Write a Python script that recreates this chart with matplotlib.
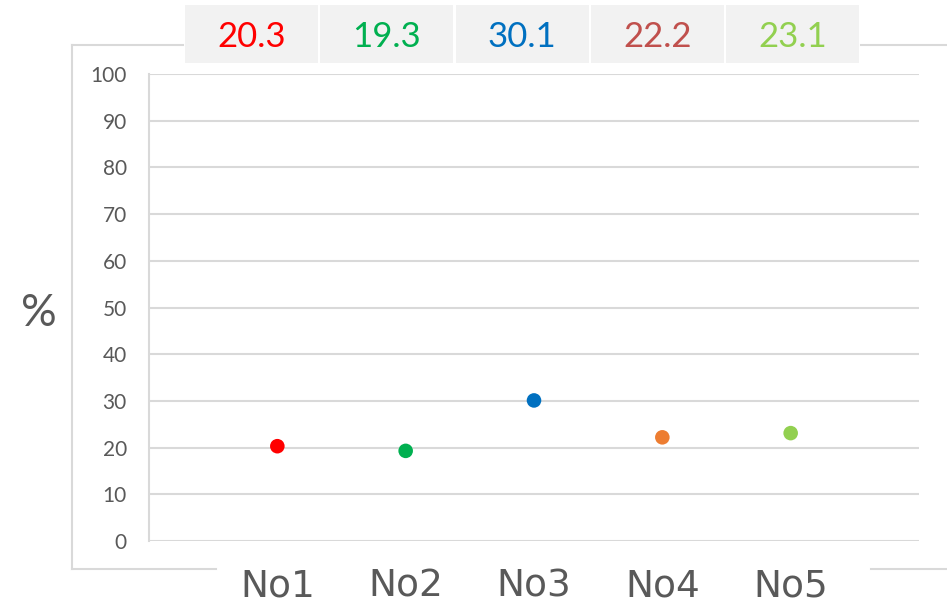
import matplotlib.pyplot as plt
from matplotlib.patches import Rectangle
from matplotlib.lines import Line2D

# values per sample
labels = ["No1", "No2", "No3", "No4", "No5"]
values = [20.3, 19.3, 30.1, 22.2, 23.1]
point_colors = ["#FF0000", "#00B050", "#0070C0", "#ED7D31", "#92D050"]
text_colors = ["#FF0000", "#00B050", "#0070C0", "#C0504D", "#92D050"]
yticks = list(range(0, 101, 10))

W, H = 947, 605
grid_col = "#D9D9D9"
text_col = "#595959"

fig = plt.figure(figsize=(W / 100, H / 100), dpi=100)

def fx(px):
    return px / W

def fy(py):
    return 1 - py / H

# outer chart frame, broken where the value boxes and category labels sit
frame = [
    ((72, 72), (45, 569)),
    ((72, 183), (45, 45)),
    ((861, 947), (45, 45)),
    ((72, 216), (569, 569)),
    ((871, 947), (569, 569)),
]
for xs, ys in frame:
    fig.add_artist(Line2D([fx(x) for x in xs], [fy(y) for y in ys],
                          color=grid_col, lw=1.5))

ax = fig.add_axes([fx(149), fy(541), fx(919) - fx(149), fy(74) - fy(541)])
ax.scatter(range(len(values)), values, s=110, c=point_colors, zorder=3,
           edgecolors="none", clip_on=False)
ax.set_xlim(-1, len(values))
ax.set_ylim(0, 100)
ax.set_yticks(yticks)
ax.set_xticks(range(len(labels)))
ax.set_xticklabels(labels, fontsize=27, color=text_col, family="DejaVu Sans")
for t in ax.get_yticklabels():
    t.set_family("Lato")
    t.set_fontsize(15)
    t.set_color(text_col)
ax.tick_params(axis="both", length=0)
ax.tick_params(axis="y", pad=16)
ax.tick_params(axis="x", pad=20)
ax.grid(axis="y", color=grid_col, lw=1.5)
ax.set_axisbelow(True)
for side in ["top", "right", "bottom"]:
    ax.spines[side].set_visible(False)
ax.spines["left"].set_color(grid_col)
ax.spines["left"].set_linewidth(1.5)

fig.text(fx(39), fy(313), "%", fontsize=32, color=text_col, family="Lato",
         ha="center", va="center")

# value boxes along the top
box_x0, box_w, box_step = 185, 133, 135.3
for i, (v, c) in enumerate(zip(values, text_colors)):
    x0 = box_x0 + i * box_step
    fig.add_artist(Rectangle((fx(x0), fy(63)), fx(box_w), fy(5) - fy(63),
                             facecolor="#F2F2F2", edgecolor="none"))
    fig.text(fx(x0 + box_w / 2), fy(37), f"{v:.1f}", color=c, fontsize=25,
             family="Lato", ha="center", va="center")

fig.savefig("out.png", dpi=100)
